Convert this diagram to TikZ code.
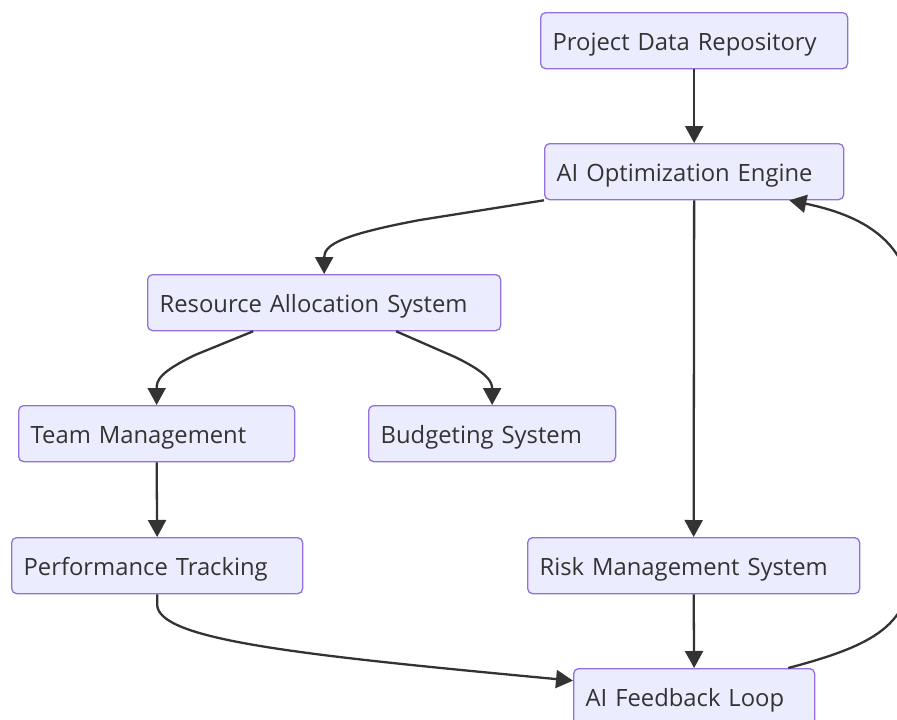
\documentclass[tikz,border=0pt]{standalone}
\usepackage{fontspec}
\setmainfont{Open Sans}
\usetikzlibrary{arrows.meta}
\definecolor{boxfill}{HTML}{ECECFF}
\definecolor{boxline}{HTML}{9370DB}
\definecolor{ink}{HTML}{333333}
\tikzset{
  flowbox/.style={draw=boxline, fill=boxfill, line width=1.3pt, rounded corners=5pt,
    anchor=north west, inner xsep=12pt, inner ysep=0pt, minimum height=56pt,
    text height=24pt, text depth=4pt,
    align=left, text=ink, font=\fontsize{23.8}{28}\selectfont},
  link/.style={draw=ink, line width=2.3pt, -{Triangle[length=17pt,width=18pt]}},
}
\begin{document}
\begin{tikzpicture}[x=1pt,y=-1pt]
\useasboundingbox (0,0) rectangle (897,720);
\clip (0,0) rectangle (897,720);

% process boxes
\node[flowbox, text width=283pt] (pdr)    at (540,12)  {Project Data Repository};
\node[flowbox, text width=275pt] (aie)    at (544,143) {AI Optimization Engine};
\node[flowbox, text width=329pt] (ras)    at (147,274) {Resource Allocation System};
\node[flowbox, text width=252pt] (team)   at (18,405)  {Team Management};
\node[flowbox, text width=223pt] (budget) at (368,405) {Budgeting System};
\node[flowbox, text width=267pt] (perf)   at (11,537)  {Performance Tracking};
\node[flowbox, text width=308pt] (risk)   at (527,537) {Risk Management System};
\node[flowbox, text width=217pt] (loop)   at (573,668) {AI Feedback Loop};

% connectors
\draw[link] (pdr.south) -- (aie.north);
\draw[link] (aie.south west) -- (420,220) .. controls (340,235) and (ras.north |- 0,245) .. (ras.north);
\draw[link] (aie.south) -- (risk.north);
\draw[link] ([xshift=-71pt]ras.south) -- (195,355) .. controls (160,372) and (team.north |- 0,380) .. (team.north);
\draw[link] ([xshift=72pt]ras.south) -- (455,357) .. controls (488,373) and (budget.north |- 0,382) .. (budget.north);
\draw[link] (team.south) -- (perf.north);
\draw[link] (perf.south) -- ++(0,10) .. controls (157,640) and (300,655) .. ([yshift=16pt]loop.west);
\draw[link] (risk.south) -- (loop.north);
\draw[link] ([xshift=-27pt]loop.north east) .. controls (875,645) and (912,625) .. (912,560)
  -- (912,310) .. controls (912,240) and (860,215) .. ([xshift=-55pt]aie.south east);
\end{tikzpicture}
\end{document}
